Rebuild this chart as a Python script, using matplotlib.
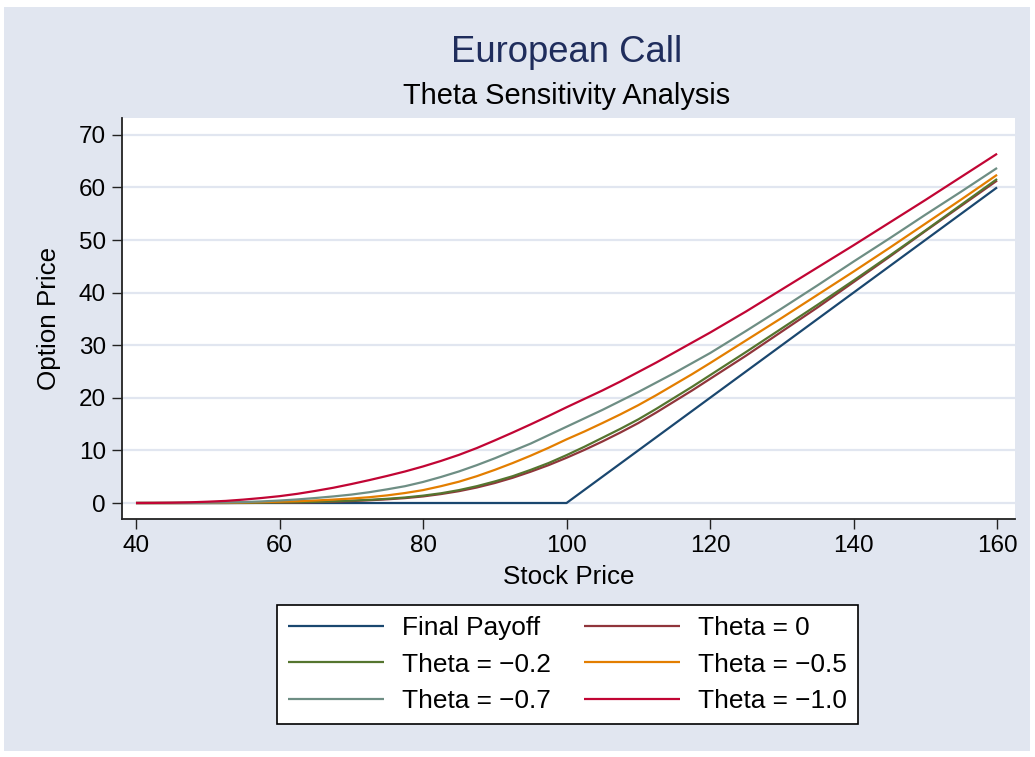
import matplotlib
matplotlib.use("Agg")
import matplotlib.pyplot as plt
from matplotlib.patches import Rectangle

plt.rcParams['font.family'] = ['Liberation Sans', 'DejaVu Sans']

# ---------------- data ----------------
stock_price = [40, 42.5, 45, 47.5, 50, 52.5, 55, 57.5, 60, 62.5,
               65, 67.5, 70, 72.5, 75, 77.5, 80, 82.5, 85, 87.5,
               90, 92.5, 95, 97.5, 100, 102.5, 105, 107.5, 110, 112.5,
               115, 117.5, 120, 122.5, 125, 127.5, 130, 132.5, 135, 137.5,
               140, 142.5, 145, 147.5, 150, 152.5, 155, 157.5, 160]

final_payoff = [0, 0, 0, 0, 0, 0, 0, 0, 0, 0,
                0, 0, 0, 0, 0, 0, 0, 0, 0, 0,
                0, 0, 0, 0, 0, 2.5, 5, 7.5, 10, 12.5,
                15, 17.5, 20, 22.5, 25, 27.5, 30, 32.5, 35, 37.5,
                40, 42.5, 45, 47.5, 50, 52.5, 55, 57.5, 60]

theta_0 = [0, 0, 0, 0, 0, 0, 0.01, 0.03, 0.06, 0.1,
           0.16, 0.25, 0.37, 0.52, 0.7, 0.93, 1.25, 1.7, 2.25, 2.95,
           3.8, 4.8, 5.95, 7.2, 8.6, 10.1, 11.7, 13.4, 15.2, 17.2,
           19.3, 21.4, 23.6, 25.8, 28.0, 30.3, 32.6, 34.9, 37.2, 39.6,
           42.0, 44.4, 46.8, 49.25, 51.7, 54.1, 56.5, 58.9, 61.3]

theta_m02 = [0, 0, 0, 0, 0, 0.01, 0.03, 0.06, 0.1, 0.15,
             0.22, 0.32, 0.45, 0.6, 0.8, 1.05, 1.4, 1.85, 2.45, 3.2,
             4.1, 5.1, 6.3, 7.6, 9.1, 10.7, 12.4, 14.1, 15.9, 17.9,
             20.0, 22.1, 24.3, 26.5, 28.7, 30.95, 33.2, 35.45, 37.7, 40.0,
             42.3, 44.65, 47.0, 49.4, 51.8, 54.25, 56.7, 59.15, 61.6]

theta_m05 = [0, 0, 0, 0.01, 0.02, 0.05, 0.1, 0.17, 0.25, 0.35,
             0.48, 0.65, 0.85, 1.1, 1.45, 1.9, 2.45, 3.2, 4.05, 5.1,
             6.3, 7.6, 9.0, 10.5, 12.1, 13.6, 15.2, 16.85, 18.6, 20.5,
             22.5, 24.5, 26.6, 28.75, 30.9, 33.05, 35.2, 37.4, 39.6, 41.8,
             44.0, 46.25, 48.5, 50.8, 53.1, 55.4, 57.7, 60.05, 62.4]

theta_m07 = [0, 0, 0.01, 0.02, 0.05, 0.1, 0.18, 0.3, 0.47, 0.68,
             0.95, 1.25, 1.6, 2.05, 2.6, 3.2, 4.0, 4.95, 6.0, 7.2,
             8.5, 9.9, 11.3, 12.9, 14.5, 16.1, 17.7, 19.4, 21.1, 22.9,
             24.7, 26.6, 28.5, 30.6, 32.7, 34.85, 37.0, 39.2, 41.4, 43.65,
             45.9, 48.1, 50.3, 52.55, 54.8, 57.0, 59.2, 61.45, 63.7]

theta_m10 = [0, 0.02, 0.06, 0.13, 0.25, 0.4, 0.65, 0.95, 1.3, 1.75,
             2.3, 2.9, 3.6, 4.35, 5.15, 6.0, 6.95, 8.0, 9.15, 10.45,
             11.9, 13.4, 14.95, 16.55, 18.2, 19.8, 21.4, 23.1, 24.9, 26.7,
             28.6, 30.5, 32.4, 34.4, 36.4, 38.5, 40.6, 42.7, 44.8, 46.9,
             49.0, 51.15, 53.3, 55.45, 57.6, 59.8, 62.0, 64.2, 66.4]

series_labels = ["Final Payoff", "Theta = 0", "Theta = \u22120.2",
                 "Theta = \u22120.5", "Theta = \u22120.7", "Theta = \u22121.0"]
series_values = [final_payoff, theta_0, theta_m02, theta_m05, theta_m07, theta_m10]
series_colors = ["#1a476f", "#90353b", "#55752f", "#e37e00", "#6e8e84", "#c10534"]

x_ticks = [40, 60, 80, 100, 120, 140, 160]
y_ticks = [0, 10, 20, 30, 40, 50, 60, 70]

# ---------------- figure ----------------
W, H = 1035, 757
BG = "#e1e6f0"
fig = plt.figure(figsize=(W / 100, H / 100), dpi=100, facecolor="white")

# bluish graph region
fig.patches.append(Rectangle((4 / W, 1 - 751 / H), 1026 / W, 744 / H,
                             transform=fig.transFigure, facecolor=BG,
                             edgecolor="none", zorder=-10))

ax = fig.add_axes([122 / W, 1 - 519 / H, 893 / W, 401 / H])
ax.set_zorder(1)
ax.set_facecolor("white")

lines = []
for vals, lab, col in zip(series_values, series_labels, series_colors):
    ln, = ax.plot(stock_price, vals, color=col, lw=1.6, label=lab,
                  solid_joinstyle="round", solid_capstyle="butt")
    lines.append(ln)

ax.set_xlim(38.05, 162.5)
ax.set_ylim(-3.04, 73.2)
ax.set_xticks(x_ticks)
ax.set_yticks(y_ticks)
ax.set_yticklabels([str(v) for v in y_ticks], rotation=0)

ax.grid(axis="y", color=BG, lw=1.6)
ax.grid(axis="x", visible=False)
ax.set_axisbelow(True)

for s in ["top", "right"]:
    ax.spines[s].set_visible(False)
for s in ["left", "bottom"]:
    ax.spines[s].set_color("#222222")
    ax.spines[s].set_linewidth(1.3)

ax.tick_params(axis="both", direction="out", length=7.5, width=1.0,
               color="#222222", labelsize=17.5, labelcolor="black", pad=4)

ax.set_xlabel("Stock Price", fontsize=18.7, labelpad=6)
ax.set_ylabel("Option Price", fontsize=18.7, labelpad=13)

fig.text(567 / W, 1 - 52 / H, "European Call", ha="center", va="center",
         fontsize=26.3, color="#1f2d5c", zorder=5)
fig.text(567 / W, 1 - 96 / H, "Theta Sensitivity Analysis", ha="center",
         va="center", fontsize=20.9, color="black", zorder=5)

# legend filled row by row (2 columns x 3 rows)
order = [0, 2, 4, 1, 3, 5]
leg = ax.legend([lines[i] for i in order], [series_labels[i] for i in order],
                loc="center", bbox_to_anchor=(567.5 / W, 1 - 664.5 / H),
                bbox_transform=fig.transFigure, ncol=2, fontsize=18.9,
                frameon=True, fancybox=False, edgecolor="black",
                framealpha=1.0,
                handlelength=3.66, handletextpad=0.69, columnspacing=1.25,
                labelspacing=0.47, borderpad=0.42, borderaxespad=0)
leg.get_frame().set_linewidth(1.2)
leg.get_frame().set_facecolor("white")

fig.savefig("out.png", dpi=100, facecolor=fig.get_facecolor())
